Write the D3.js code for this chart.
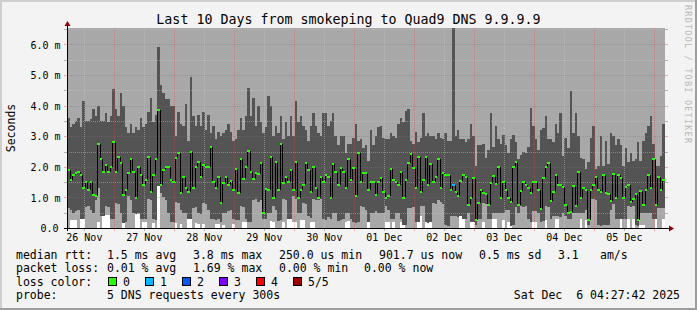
<!DOCTYPE html>
<html>
<head>
<meta charset="utf-8">
<script src="https://cdn.jsdelivr.net/npm/d3@7"></script>
<style>
html, body { margin: 0; padding: 0; background: #f3f3f3; }
svg { display: block; }
text { font-family: "DejaVu Sans Mono", monospace; white-space: pre; }
</style>
</head>
<body>
<svg id="chart" width="697" height="310"></svg>
<script>
// one value per hourly step, in milliseconds
const medianRtt = [
  1.90,1.57,1.73,1.79,1.84,1.73,1.30,1.51,1.24,1.51, 1.08,1.05,2.76,2.25,1.84,2.06,1.84,2.00,2.82,1.84,
  2.33,2.11,1.08,1.24,1.81,2.27,1.84,0.99,2.00,1.73, 1.41,1.57,2.33,1.19,1.73,2.27,3.86,1.41,1.90,2.00,
  2.00,1.57,1.51,2.28,2.44,1.15,1.68,1.32,1.19,2.49, 1.32,2.00,2.17,1.68,2.06,2.00,2.00,2.66,1.51,1.32,
  1.68,0.83,1.48,1.68,1.41,1.54,1.24,1.94,1.15,2.27, 1.59,2.00,2.53,1.84,1.59,1.81,1.75,2.11,0.50,1.26,
  1.24,2.33,0.99,2.17,1.24,2.76,1.48,1.68,1.51,1.90, 1.24,2.17,0.99,1.24,1.41,2.11,1.90,1.19,2.00,1.32,
  0.99,1.68,1.51,1.73,1.68,0.99,2.08,1.84,1.41,1.95, 1.84,1.32,2.27,1.57,1.95,1.05,2.44,1.51,1.81,1.79,
  1.24,1.51,1.51,1.08,1.51,1.64,1.19,0.99,1.05,1.94, 1.57,1.51,1.41,1.84,0.99,1.57,2.11,2.42,1.95,1.32,
  2.33,1.19,1.57,2.33,1.41,2.08,1.51,1.68,2.27,1.32, 1.81,1.73,1.73,1.24,1.42,1.19,1.05,1.54,1.73,1.68,
  0.75,0.99,1.62,0.26,0.83,1.24,1.15,1.10,0.75,1.48, 1.70,1.44,2.00,0.99,1.51,1.24,0.99,0.86,2.00,2.17,
  0.75,1.22,1.51,1.41,1.32,1.15,1.51,1.51,1.24,0.61, 1.64,2.00,2.11,0.88,1.19,1.73,1.41,1.41,1.35,0.75,
  0.50,0.53,1.37,0.72,1.84,0.99,1.32,1.24,0.26,1.24, 1.41,1.68,1.24,1.19,1.73,1.15,1.10,0.88,1.78,0.99,
  1.73,1.64,0.99,1.34,1.41,0.86,0.96,1.10,0.26,1.21, 0.75,1.24,1.73,1.32,2.27,0.75,1.68,1.24,1.57,0.92
];
const smokeHigh = [
  3.6,3.3,3.4,3.5,3.6,3.3,4.15,3.5,3.5,3.55, 3.9,3.65,4.0,3.5,3.5,3.75,3.45,3.65,4.53,3.9,
  3.65,4.42,4.0,3.3,3.1,3.4,3.1,3.3,3.2,3.6, 3.3,3.4,3.8,4.25,3.45,3.7,5.93,4.67,4.4,4.2,
  4.2,4.0,4.0,3.0,3.8,3.4,3.33,4.05,2.85,4.95, 3.65,3.33,3.7,3.33,3.8,3.2,3.7,3.1,3.33,2.9,
  3.15,3.0,3.1,3.2,3.4,3.15,2.85,2.9,3.2,3.6, 3.2,3.65,4.57,3.65,4.25,3.33,4.0,3.45,3.1,3.3,
  4.3,4.0,3.0,3.33,3.1,3.65,2.9,3.45,3.0,3.65, 3.0,4.15,3.45,3.65,3.33,3.2,2.85,3.33,3.75,3.33,
  3.1,3.0,3.75,3.75,3.33,3.5,3.75,3.0,2.7,3.0, 3.0,2.45,2.75,2.75,2.95,3.4,2.85,2.9,2.6,2.7,
  2.2,3.2,2.7,3.0,3.3,3.33,2.95,2.9,2.9,3.1, 3.0,2.95,3.4,3.6,3.45,3.82,3.88,2.85,2.75,3.15,
  2.8,2.95,3.76,3.0,3.1,3.0,3.0,2.9,3.1,2.95, 2.9,3.1,2.85,2.84,7.0,3.0,3.2,2.9,2.9,2.8,
  2.9,3.4,3.0,2.03,2.7,2.7,2.75,2.3,2.55,3.77, 2.65,3.33,2.9,2.75,3.05,2.7,2.45,2.9,3.05,2.8,
  2.25,2.4,2.5,2.45,2.65,3.93,3.33,2.9,2.55,3.2, 3.28,3.66,2.9,2.9,2.8,3.4,3.1,3.76,2.35,2.95,
  2.63,4.48,3.1,3.77,3.0,2.3,2.25,1.92,2.15,2.95, 3.33,1.92,2.03,3.0,2.03,2.85,2.08,3.1,3.0,2.7,
  2.9,2.7,2.03,2.63,2.15,2.45,2.2,2.25,2.8,2.2, 2.85,3.1,3.33,3.66,2.75,2.03,2.03,2.35,3.4,3.4
];
const smokeLow = [
  0.66,0.6,0.5,0.55,0.6,0.3,0.28,0.7,0.72,0.6, 0.5,0.9,1.3,0.4,0.39,0.72,0.7,0.3,0.28,0.83,
  0.8,0.5,0.17,0.2,1.05,0.9,0.5,0.45,0.5,0.3, 0.28,0.3,0.94,0.9,0.3,0.25,1.38,1.15,1.0,0.9,
  0.5,0.2,0.2,0.85,0.83,0.6,0.5,0.5,0.3,0.3, 0.66,0.7,0.5,0.45,0.83,0.8,0.6,0.3,0.28,0.25,
  0.3,0.2,0.5,0.5,0.55,0.6,0.3,0.25,0.25,0.72, 0.7,0.3,0.2,0.2,0.9,0.94,0.85,0.9,0.3,0.28,
  0.5,0.5,0.72,0.6,0.23,0.25,0.94,0.9,0.28,0.3, 1.05,0.95,0.5,0.5,0.83,0.8,0.4,0.33,0.94,0.9,
  0.9,0.94,0.3,0.25,0.35,0.28,0.5,0.5,0.23,0.25, 0.3,0.5,0.5,0.3,0.2,0.17,0.2,0.72,0.7,0.6,
  0.2,0.5,0.5,0.55,0.5,0.5,0.5,0.72,0.6,0.28, 0.3,0.5,0.5,0.3,0.1,0.1,0.66,0.66,0.7,0.2,
  0.2,0.72,0.72,0.2,0.17,0.2,0.83,0.8,0.9,0.85, 0.8,0.1,0.06,0.4,0.39,0.4,0.35,0.4,0.3,0.28,
  0.5,0.2,0.2,0.1,0.28,0.3,0.83,0.8,0.3,0.28, 0.5,0.5,0.5,0.5,0.5,0.6,0.6,0.06,0.1,0.7,
  0.5,0.72,0.7,0.72,0.28,0.2,0.55,0.55,0.5,0.2, 0.22,0.72,0.7,0.3,0.4,0.39,0.4,0.35,0.5,0.4,
  0.3,0.3,0.5,0.5,0.5,0.5,0.5,0.6,0.1,0.94, 0.94,0.9,0.1,0.06,0.1,0.1,0.1,0.6,0.8,0.3,
  0.28,0.3,0.28,0.3,0.72,0.7,0.72,0.1,0.06,0.5, 0.5,0.5,0.5,0.5,0.3,0.3,0.66,0.66,0.66,0.6
];
// [step, height in ms] of the white stubs under the smoke
const floorBars = [
  [1,0.26],[2,0.26],[3,0.26],[5,0.3],[6,0.28],[12,0.18],[14,0.39],[15,0.42],[16,0.42],[22,0.15],
  [27,0.45],[28,0.46],[30,0.2],[31,0.2],[34,0.15],[36,1.38],[43,0.15],[45,0.12],[48,0.3],[49,0.3],
  [51,0.15],[52,0.12],[54,0.12],[59,0.12],[60,0.12],[62,0.1],[66,0.12],[70,0.2],[71,0.2],[81,0.24],
  [82,0.2],[86,0.2],[88,0.28],[89,0.3],[90,0.18],[91,0.18],[93,0.25],[94,0.25],[97,0.2],[98,0.2],
  [111,0.2],[112,0.23],[120,0.2],[127,0.2],[128,0.2],[130,0.18],[133,0.2],[134,0.1],[140,0.42],[141,0.4],
  [143,0.2],[144,0.17],[145,0.2],[157,0.4],[158,0.28],[161,0.2],[162,0.2],[166,0.2],[170,0.3],[171,0.28],
  [174,0.25],[176,0.2],[177,0.06],[186,0.2],[187,0.2],[191,0.25],[195,0.3],[196,0.3],[205,0.3],[207,0.25],
  [221,0.3],[224,0.28],[226,0.3],[229,0.1],[230,0.1],[235,0.3],[238,0.3]
];
// [step, lost packets] where loss was not 0
const lossSteps = [[154, 1]];
const lossColors = ['#26ff00', '#00b8ff', '#0059ff', '#7e00ff', '#ff0000', '#a10000'];
const lossLabels = ['0', '1', '2', '3', '4', '5/5'];
const yTicks = [0, 1, 2, 3, 4, 5, 6];

const title = 'Last 10 Days from smokeping to Quad9 DNS 9.9.9.9';
const rttLine = ['median rtt:', '1.5 ms avg', '3.8 ms max', '250.0 us min', '901.7 us now', '0.5 ms sd', '3.1', 'am/s'];
const lossLine = ['packet loss:', '0.01 % avg', '1.69 % max', '0.00 % min', '0.00 % now'];
const probeLine = ['probe:', '5 DNS requests every 300s'];
const stamp = 'Sat Dec  6 04:27:42 2025';

const viewStart = Date.UTC(2025, 10, 26, 5, 15, 42);
const viewEnd = Date.UTC(2025, 11, 6, 4, 27, 42);
const stepMs = 3600 * 1000;

// layout
const W = 697, H = 310;
const L = 67, R = 665, T = 28, B = 228;
const majorColor = 'rgba(255,60,60,0.42)';
const minorColor = 'rgba(205,205,205,0.45)';

const svg = d3.select('#chart');

// frame
svg.append('rect').attr('width', W).attr('height', H).attr('fill', '#f3f3f3');
svg.append('rect').attr('x', 0).attr('y', 0).attr('width', W).attr('height', 2).attr('fill', '#cfcfcf');
svg.append('rect').attr('x', 0).attr('y', 0).attr('width', 2).attr('height', H).attr('fill', '#cfcfcf');
svg.append('rect').attr('x', 0).attr('y', H - 2).attr('width', W).attr('height', 2).attr('fill', '#9e9e9e');
svg.append('rect').attr('x', W - 2).attr('y', 0).attr('width', 2).attr('height', H).attr('fill', '#9e9e9e');

const x = d3.scaleUtc().domain([viewStart, viewEnd]).range([L, R]);
const y = d3.scaleLinear().domain([0, 6.536]).range([B, T]);

let steps = medianRtt.map((m, i) => ({
  t0: new Date(viewStart + i * stepMs),
  t1: new Date(viewStart + (i + 1) * stepMs),
  med: m, hi: smokeHigh[i], lo: smokeLow[i], floor: 0, loss: 0
}));
floorBars.forEach(([i, h]) => { steps[i].floor = Math.min(h, steps[i].lo) });
lossSteps.forEach(([i, l]) => { steps[i].loss = l });

svg.append('clipPath').attr('id', 'plotclip')
  .append('rect').attr('x', L).attr('y', T).attr('width', R - L).attr('height', B - T);

const plot = svg.append('g').attr('clip-path', 'url(#plotclip)')
  .attr('shape-rendering', 'crispEdges');

plot.append('rect').attr('x', L).attr('y', T).attr('width', R - L).attr('height', B - T)
  .attr('fill', '#a8a8a8');

const px0 = d => Math.round(x(d.t0));
const px1 = d => Math.round(x(d.t1));

// white stubs from 0 up
plot.selectAll('.floor').data(steps.filter(d => d.floor > 0)).enter()
  .append('rect').attr('class', 'floor')
  .attr('x', px0).attr('width', d => px1(d) - px0(d))
  .attr('y', d => Math.round(y(d.floor))).attr('height', d => B - Math.round(y(d.floor)))
  .attr('fill', '#ffffff');

// smoke
plot.selectAll('.smoke').data(steps).enter()
  .append('rect').attr('class', 'smoke')
  .attr('x', px0).attr('width', d => px1(d) - px0(d))
  .attr('y', d => Math.round(y(d.hi)))
  .attr('height', d => Math.round(y(d.lo)) - Math.round(y(d.hi)))
  .attr('fill', '#545454');

// grid, drawn over the smoke like rrdtool does
const grid = svg.append('g').attr('shape-rendering', 'crispEdges');
const midnights = d3.utcDay.range(new Date(viewStart), new Date(viewEnd));
const noons = midnights.map(d => d3.utcHour.offset(d, -12)).filter(d => d >= viewStart);
const minorY = d3.range(0.5, 6.6, 1).filter(v => v <= y.domain()[1]);
const majorY = yTicks.filter(v => v > 0);

grid.selectAll('.vminor').data(noons).enter().append('line')
  .attr('x1', d => Math.round(x(d)) + 0.5).attr('x2', d => Math.round(x(d)) + 0.5)
  .attr('y1', T).attr('y2', B)
  .attr('stroke', minorColor).attr('stroke-dasharray', '1,1');
grid.selectAll('.hminor').data(minorY).enter().append('line')
  .attr('x1', L).attr('x2', R)
  .attr('y1', d => Math.round(y(d)) + 0.5).attr('y2', d => Math.round(y(d)) + 0.5)
  .attr('stroke', minorColor).attr('stroke-dasharray', '1,1');
grid.selectAll('.vmajor').data(midnights).enter().append('line')
  .attr('x1', d => Math.round(x(d)) + 0.5).attr('x2', d => Math.round(x(d)) + 0.5)
  .attr('y1', T).attr('y2', B)
  .attr('stroke', majorColor).attr('stroke-dasharray', '1,1');
grid.selectAll('.hmajor').data(majorY).enter().append('line')
  .attr('x1', L).attr('x2', R)
  .attr('y1', d => Math.round(y(d)) + 0.5).attr('y2', d => Math.round(y(d)) + 0.5)
  .attr('stroke', majorColor).attr('stroke-dasharray', '1,1');

// small ticks outside the plot
const ticks = svg.append('g').attr('shape-rendering', 'crispEdges');
minorY.concat(majorY).forEach(v => {
  const yy = Math.round(y(v)) + 0.5;
  const c = v % 1 === 0 ? majorColor : '#b5b5b5';
  ticks.append('line').attr('x1', L - 3).attr('x2', L).attr('y1', yy).attr('y2', yy).attr('stroke', c);
  ticks.append('line').attr('x1', R).attr('x2', R + 3).attr('y1', yy).attr('y2', yy).attr('stroke', c);
});
noons.concat(midnights).forEach(d => {
  const xx = Math.round(x(d)) + 0.5;
  const c = d.getUTCHours() === 0 ? majorColor : '#b5b5b5';
  ticks.append('line').attr('x1', xx).attr('x2', xx).attr('y1', B).attr('y2', B + 3).attr('stroke', c);
});

// median line: black steps, tick coloured by loss
const med = svg.append('g').attr('clip-path', 'url(#plotclip)').attr('shape-rendering', 'crispEdges');
med.selectAll('.joint').data(steps.slice(1)).enter().append('line')
  .attr('x1', d => px0(d) + 0.5).attr('x2', d => px0(d) + 0.5)
  .attr('y1', (d, i) => Math.round(y(steps[i].med)))
  .attr('y2', d => Math.round(y(d.med)))
  .attr('stroke', '#000000');
med.selectAll('.tick').data(steps).enter().append('rect')
  .attr('x', px0).attr('width', d => px1(d) - px0(d))
  .attr('y', d => Math.round(y(d.med)) - 1).attr('height', 2)
  .attr('fill', d => lossColors[d.loss]);

// axes
svg.append('line').attr('x1', L - 3).attr('x2', R + 5).attr('y1', B + 0.5).attr('y2', B + 0.5)
  .attr('stroke', '#000').attr('shape-rendering', 'crispEdges');
svg.append('line').attr('x1', L + 0.5).attr('x2', L + 0.5).attr('y1', B + 3).attr('y2', T - 4)
  .attr('stroke', '#000').attr('shape-rendering', 'crispEdges');
svg.append('path').attr('d', `M${R + 4},${B - 2.5}L${R + 9},${B + 0.5}L${R + 4},${B + 3.5}Z`).attr('fill', '#8b0000');
svg.append('path').attr('d', `M${L - 2.5},${T - 2}L${L + 0.5},${T - 7}L${L + 3.5},${T - 2}Z`).attr('fill', '#8b0000');

const yAxis = d3.axisLeft(y).tickValues(yTicks)
  .tickFormat(d => d === 0 ? '0.0' : d.toFixed(1) + ' m')
  .tickSize(0).tickPadding(6.5);
svg.append('g').attr('transform', `translate(${L},0)`).call(yAxis)
  .call(g => g.select('.domain').remove())
  .call(g => g.selectAll('text')
    .attr('font-family', '"DejaVu Sans Mono", monospace').attr('font-size', 10)
    .attr('fill', '#000').attr('dy', '0.36em')
    .attr('dx', d => d === 0 ? -2 : 0));

const xAxis = d3.axisBottom(x).tickValues(noons)
  .tickFormat(d3.utcFormat('%d %b')).tickSize(0).tickPadding(6);
svg.append('g').attr('transform', `translate(0,${B})`).call(xAxis)
  .call(g => g.select('.domain').remove())
  .call(g => g.selectAll('text')
    .attr('font-family', '"DejaVu Sans Mono", monospace').attr('font-size', 10).attr('fill', '#000'));

// titles
svg.append('text').attr('x', 348.5).attr('y', 24).attr('text-anchor', 'middle')
  .attr('font-size', 13.3).attr('fill', '#000').text(title);
svg.append('text').attr('transform', 'translate(15,128) rotate(-90)').attr('text-anchor', 'middle')
  .attr('font-size', 11.5).attr('fill', '#000').text('Seconds');
svg.append('text').attr('transform', 'translate(685,5) rotate(90)')
  .attr('font-size', 8.5).attr('fill', '#b8b8b8')
  .attr('textLength', 138).attr('lengthAdjust', 'spacing')
  .text('RRDTOOL / TOBI OETIKER');

// legend
const legend = svg.append('g').attr('font-size', 11.5).attr('fill', '#000');
const rttX = [16, 107, 193, 279, 379, 479, 558, 600];
rttLine.forEach((s, i) => legend.append('text').attr('x', rttX[i]).attr('y', 258.5).text(s));
const lossX = [16, 107, 193, 279, 364];
lossLine.forEach((s, i) => legend.append('text').attr('x', lossX[i]).attr('y', 272).text(s));
legend.append('text').attr('x', 16).attr('y', 285.5).text('loss color:');
lossColors.forEach((c, i) => {
  const bx = 108 + i * 37;
  legend.append('rect').attr('x', bx + 0.5).attr('y', 277.5).attr('width', 8).attr('height', 8)
    .attr('fill', c).attr('stroke', '#000').attr('shape-rendering', 'crispEdges');
  legend.append('text').attr('x', bx + 15).attr('y', 285.5).text(lossLabels[i]);
});
const probeX = [16, 107];
probeLine.forEach((s, i) => legend.append('text').attr('x', probeX[i]).attr('y', 299).text(s));
legend.append('text').attr('x', 680).attr('y', 299).attr('text-anchor', 'end').text(stamp);
</script>
</body>
</html>
